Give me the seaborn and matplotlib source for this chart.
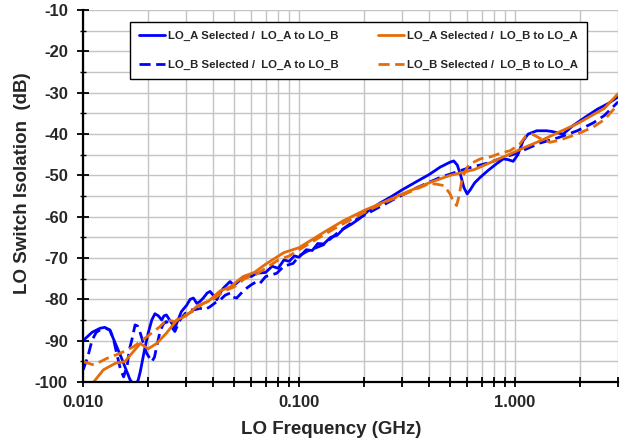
import numpy as np
import pandas as pd
import matplotlib
matplotlib.use("Agg")
import matplotlib.pyplot as plt
import seaborn as sns
from matplotlib.ticker import FixedLocator, FixedFormatter, MultipleLocator, NullFormatter

# ------------------------------------------------------
# DATA
# ------------------------------------------------------

# LO_A Selected / LO_A to LO_B  (blue solid)
freq_a_ab = [0.0100, 0.0110, 0.0120, 0.0126, 0.0133, 0.0141, 0.0150, 0.0156, 0.0165, 0.0174,
             0.0180, 0.0184, 0.0192, 0.0200, 0.0208, 0.0215, 0.0223, 0.0231, 0.0237, 0.0243,
             0.0255, 0.0266, 0.0275, 0.0285, 0.0302, 0.0313, 0.0324, 0.0336, 0.0348, 0.0360,
             0.0375, 0.0387, 0.0400, 0.0416, 0.0430, 0.0446, 0.0462, 0.0479, 0.0495, 0.0514,
             0.0540, 0.0572, 0.0600, 0.0636, 0.0700, 0.0750, 0.0800, 0.0850, 0.0900, 0.0950,
             0.1000, 0.1080, 0.1150, 0.1220, 0.1300, 0.1400, 0.1500, 0.1600, 0.1750, 0.1900,
             0.2100, 0.2370, 0.2700, 0.3000, 0.3500, 0.4000, 0.4500, 0.5000, 0.5200, 0.5400,
             0.5600, 0.5800, 0.6000, 0.6200, 0.6500, 0.6890, 0.7500, 0.8200, 0.8830, 0.9300,
             0.9800, 1.0300, 1.0900, 1.1500, 1.2600, 1.4000, 1.4900, 1.6000, 1.6700, 1.8500,
             2.1000, 2.4000, 2.7000, 3.0000]
db_a_ab = [-90.0, -88.0, -87.0, -86.8, -87.5, -90.7, -94.0, -96.3, -99.5, -101.0,
           -99.5, -97.5, -92.5, -88.2, -85.0, -83.5, -84.0, -85.0, -84.0, -83.8,
           -85.5, -87.0, -85.0, -83.0, -81.4, -80.0, -79.7, -81.0, -80.5, -79.7,
           -78.5, -78.1, -79.0, -80.1, -78.5, -77.3, -76.5, -75.7, -76.5, -76.1,
           -75.0, -74.5, -74.5, -73.7, -73.5, -72.0, -72.5, -70.5, -70.8, -69.5,
           -69.8, -68.0, -68.2, -66.5, -66.6, -65.0, -64.5, -63.0, -61.8, -60.5,
           -58.5, -56.7, -55.0, -53.5, -51.5, -49.8, -48.0, -46.8, -46.5, -47.5,
           -50.0, -53.0, -54.5, -53.5, -51.8, -50.5, -48.8, -47.2, -46.0, -46.2,
           -46.6, -45.0, -41.6, -40.0, -39.2, -39.2, -39.4, -39.8, -40.0, -38.0,
           -36.0, -34.0, -32.6, -31.0]

# LO_B Selected / LO_A to LO_B  (blue dashed)
freq_b_ab = [0.0100, 0.0105, 0.0110, 0.0115, 0.0120, 0.0127, 0.0133, 0.0138, 0.0143, 0.0149,
             0.0154, 0.0160, 0.0164, 0.0168, 0.0174, 0.0179, 0.0184, 0.0191, 0.0197, 0.0208,
             0.0214, 0.0219, 0.0227, 0.0235, 0.0243, 0.0255, 0.0266, 0.0281, 0.0296, 0.0312,
             0.0330, 0.0348, 0.0367, 0.0387, 0.0410, 0.0430, 0.0455, 0.0479, 0.0495, 0.0514,
             0.0540, 0.0572, 0.0600, 0.0636, 0.0660, 0.0700, 0.0788, 0.0850, 0.0939, 0.1000,
             0.1087, 0.1200, 0.1296, 0.1500, 0.1800, 0.2200, 0.2700, 0.3500, 0.4500, 0.6000,
             0.7500, 0.9000, 1.0000, 1.3000, 1.6000, 1.9400, 2.3000, 2.5900, 3.0000]
db_b_ab = [-97.1, -94.0, -89.9, -88.0, -87.4, -87.0, -87.4, -89.5, -93.1, -97.0,
           -98.8, -96.0, -92.0, -89.9, -86.2, -86.5, -88.2, -91.0, -93.1, -95.1,
           -94.0, -91.5, -87.8, -86.0, -85.4, -86.5, -87.8, -85.0, -83.5, -82.6,
           -82.5, -82.2, -82.5, -81.8, -80.8, -80.2, -79.0, -78.5, -79.5, -79.7,
           -78.5, -77.3, -76.5, -75.7, -76.1, -74.5, -73.7, -72.0, -71.3, -69.5,
           -68.4, -67.5, -66.8, -64.0, -61.0, -58.5, -56.0, -53.0, -50.5, -48.3,
           -47.0, -45.5, -44.8, -42.2, -40.8, -39.2, -37.3, -35.5, -32.2]

# LO_A Selected / LO_B to LO_A  (orange solid)
freq_a_ba = [0.0108, 0.0112, 0.0124, 0.0141, 0.0156, 0.0168, 0.0184, 0.0200, 0.0219, 0.0243,
             0.0272, 0.0300, 0.0340, 0.0380, 0.0430, 0.0480, 0.0550, 0.0620, 0.0700, 0.0850,
             0.1000, 0.1300, 0.1600, 0.2000, 0.2460, 0.3000, 0.4000, 0.5000, 0.6470, 0.8000,
             0.9330, 1.1000, 1.3400, 1.6000, 1.9400, 2.3000, 2.5900, 3.0000]
db_a_ba = [-101.5, -100.0, -97.1, -95.5, -95.1, -93.1, -90.7, -92.0, -90.7, -88.2,
           -85.0, -84.0, -81.5, -80.5, -78.0, -77.0, -74.5, -73.5, -71.5, -68.7,
           -67.5, -63.8, -61.0, -58.5, -56.5, -54.5, -51.8, -50.0, -48.6, -46.5,
           -45.0, -43.3, -41.4, -39.5, -37.5, -35.3, -33.8, -30.2]

# LO_B Selected / LO_B to LO_A  (orange dashed)
freq_b_ba = [0.0100, 0.0112, 0.0129, 0.0148, 0.0171, 0.0197, 0.0227, 0.0243, 0.0266, 0.0280,
             0.0320, 0.0360, 0.0400, 0.0450, 0.0500, 0.0560, 0.0630, 0.0700, 0.0800, 0.0900,
             0.1000, 0.1200, 0.1500, 0.2000, 0.2500, 0.3000, 0.3500, 0.4000, 0.4300, 0.4700,
             0.5000, 0.5200, 0.5360, 0.5500, 0.5700, 0.6100, 0.6900, 0.7700, 0.8500, 0.9500,
             1.0500, 1.1200, 1.2000, 1.3000, 1.4500, 1.6000, 1.9400, 2.3000, 2.5900, 3.0000]
db_b_ba = [-95.1, -95.9, -94.3, -93.1, -91.5, -89.1, -86.6, -85.0, -85.4, -84.5,
           -83.0, -81.0, -80.0, -78.0, -77.0, -75.0, -74.0, -72.5, -70.5, -69.5,
           -68.0, -65.5, -62.5, -59.0, -56.5, -54.8, -53.3, -52.0, -52.1, -52.5,
           -54.5, -56.5, -57.3, -55.0, -50.5, -47.4, -46.0, -45.5, -44.7, -44.0,
           -42.5, -40.5, -40.0, -41.0, -42.0, -41.5, -40.0, -38.3, -36.5, -32.8]

labels = ["LO_A Selected /  LO_A to LO_B",
          "LO_B Selected /  LO_A to LO_B",
          "LO_A Selected /  LO_B to LO_A",
          "LO_B Selected /  LO_B to LO_A"]

x_ticks = [0.01, 0.1, 1.0]
x_tick_labels = ["0.010", "0.100", "1.000"]

BLUE = "#0000FF"
ORANGE = "#E46C0A"

# ------------------------------------------------------
# PLOT
# ------------------------------------------------------

sns.set_style("whitegrid")
plt.rcParams["font.family"] = ["Liberation Sans", "DejaVu Sans"]
plt.rcParams["font.weight"] = "bold"
plt.rcParams["axes.unicode_minus"] = False

fig, ax = plt.subplots(figsize=(6.25, 4.42), dpi=100)
fig.subplots_adjust(left=0.133, right=0.989, bottom=0.136, top=0.977)

series = [
    (freq_a_ab, db_a_ab, labels[0], BLUE, None),
    (freq_b_ab, db_b_ab, labels[1], BLUE, (4, 2)),
    (freq_a_ba, db_a_ba, labels[2], ORANGE, None),
    (freq_b_ba, db_b_ba, labels[3], ORANGE, (4, 2)),
]

for freq, db, label, color, dash in series:
    df = pd.DataFrame({"freq": freq, "db": db})
    sns.lineplot(data=df, x="freq", y="db", ax=ax, color=color,
                 linewidth=2.0, label=label, sort=False, estimator=None)
    if dash is not None:
        ax.lines[-1].set_dashes(dash)

ax.set_xscale("log")
ax.set_xlim(0.01, 3.0)
ax.set_ylim(-100, -10)

ax.xaxis.set_major_locator(FixedLocator(x_ticks))
ax.xaxis.set_major_formatter(FixedFormatter(x_tick_labels))
minor = [m * d for d in (0.01, 0.1, 1.0) for m in range(2, 10) if m * d <= 3.0]
ax.xaxis.set_minor_locator(FixedLocator(minor))
ax.xaxis.set_minor_formatter(NullFormatter())
ax.yaxis.set_major_locator(MultipleLocator(10))
ax.yaxis.set_minor_locator(MultipleLocator(5))

ax.grid(True, which="both", color="#C4C4C4", linewidth=1.0)
ax.set_axisbelow(True)

for side in ["top", "right"]:
    ax.spines[side].set_visible(False)
for side in ["left", "bottom"]:
    ax.spines[side].set_visible(True)
    ax.spines[side].set_color("black")
    ax.spines[side].set_linewidth(1.6)

ax.tick_params(axis="x", which="major", direction="inout", length=7, width=1.3,
               color="black", labelsize=12, pad=6, bottom=True)
ax.tick_params(axis="y", which="major", direction="inout", length=8, width=1.3,
               color="black", labelsize=12, pad=7, left=True)
ax.tick_params(axis="x", which="minor", direction="inout", length=7, width=1.3,
               color="black", bottom=True)
ax.tick_params(axis="y", which="minor", direction="inout", length=4, width=1.0,
               color="black", left=True)
for t in ax.get_xticklabels() + ax.get_yticklabels():
    t.set_fontweight("bold")

ax.set_xlabel("LO Frequency (GHz)", fontsize=13.5, fontweight="bold")
ax.set_ylabel("LO Switch Isolation  (dB)", fontsize=13.5, fontweight="bold")
ax.xaxis.set_label_coords(0.464, -0.106)
ax.yaxis.set_label_coords(-0.097, 0.535)

leg = ax.legend(ncol=2, loc="upper left", bbox_to_anchor=(130 / 625, 1 - 22 / 442),
                bbox_transform=fig.transFigure, borderaxespad=0,
                fontsize=8.2, frameon=True, fancybox=False, handlelength=2.3,
                handletextpad=0.2, columnspacing=3.5, borderpad=0.8,
                labelspacing=1.65)
leg.get_frame().set_edgecolor("black")
leg.get_frame().set_linewidth(1.0)
leg.get_frame().set_facecolor("white")
leg.get_frame().set_alpha(1.0)
for t in leg.get_texts():
    t.set_fontweight("bold")

fig.savefig("out.png", dpi=100)
